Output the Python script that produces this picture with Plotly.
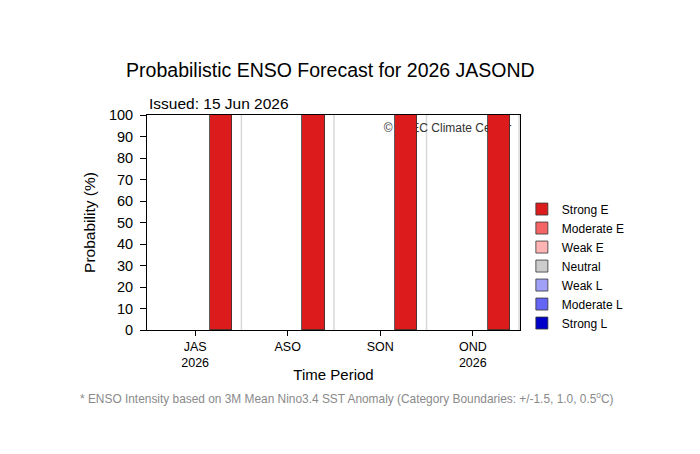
import plotly.graph_objects as go

periods = ["JAS<br>2026", "ASO", "SON", "OND<br>2026"]
categories = ["Strong L", "Moderate L", "Weak L", "Neutral", "Weak E", "Moderate E", "Strong E"]
colors = ["#0000C8", "#6464F5", "#A0A0F8", "#CCCCCC", "#FFB4B4", "#F46464", "#DC1C1C"]
probs = {
    "Strong L": [0, 0, 0, 0],
    "Moderate L": [0, 0, 0, 0],
    "Weak L": [0, 0, 0, 0],
    "Neutral": [0, 0, 0, 0],
    "Weak E": [0, 0, 0, 0],
    "Moderate E": [0, 0, 0, 0],
    "Strong E": [100, 100, 100, 100],
}
yticks = list(range(0, 101, 10))

FONT = "Liberation Sans, Arial, Helvetica, sans-serif"
xs = list(range(len(periods)))

fig = go.Figure()
for cat, col in zip(categories, colors):
    fig.add_trace(go.Bar(
        x=xs, y=probs[cat], name=cat,
        marker=dict(color=col, line=dict(color="#333333", width=0.8)),
        offset=0.16, width=0.24,
    ))

shapes = []
for i in range(len(periods)):
    shapes.append(dict(type="line", xref="x", yref="paper", x0=i + 0.5, x1=i + 0.5,
                       y0=0, y1=1, line=dict(color="#D8D8D8", width=1.5), layer="below"))
shapes.append(dict(type="rect", xref="paper", yref="paper", x0=0.5, x1=0.993, y0=0.895, y1=0.995,
                   line=dict(width=0), fillcolor="rgba(0,0,0,0)", layer="below",
                   label=dict(text="© APEC Climate Center", textposition="middle right",
                              font=dict(family=FONT, size=12, color="#333333"))))

fig.update_layout(
    width=700, height=454,
    margin=dict(l=147, r=180, t=115, b=124),
    paper_bgcolor="white", plot_bgcolor="white",
    barmode="stack", bargap=0,
    font=dict(family=FONT, color="black"),
    title=dict(text="Probabilistic ENSO Forecast for 2026 JASOND", x=0.472, xanchor="center",
               y=0.846, yanchor="middle", font=dict(size=19.5, color="black", family=FONT)),
    xaxis=dict(tickmode="array", tickvals=xs, ticktext=periods, range=[-0.52, 3.51],
               showline=True, linecolor="black", linewidth=1, mirror=True,
               ticks="outside", ticklen=5, tickcolor="black", showgrid=False, zeroline=False,
               tickfont=dict(size=12.5), title=dict(text="Time Period", font=dict(size=15), standoff=0)),
    yaxis=dict(tickmode="array", tickvals=yticks, range=[0, 100],
               showline=True, linecolor="black", linewidth=1, mirror=True,
               ticks="outside", ticklen=6, tickcolor="black", showgrid=False, zeroline=False,
               ticklabelstandoff=4,
               tickfont=dict(size=14.5), title=dict(text="Probability (%)", font=dict(size=15.5), standoff=9)),
    legend=dict(x=1.005, xanchor="left", y=0.63, yanchor="top", traceorder="reversed",
                font=dict(size=12), itemwidth=30, bgcolor="rgba(0,0,0,0)", tracegroupgap=0),
    shapes=shapes,
    annotations=[
        dict(text="Issued: 15 Jun 2026", xref="paper", yref="paper", x=0.0, y=1.0,
             xanchor="left", yanchor="bottom", yshift=1, showarrow=False,
             font=dict(size=15.5, color="black", family=FONT)),
        dict(text="* ENSO Intensity based on 3M Mean Nino3.4 SST Anomaly (Category Boundaries: +/-1.5, 1.0, 0.5<sup>o</sup>C)",
             xref="paper", yref="paper", x=0.535, y=0, yshift=-68, xanchor="center", yanchor="middle",
             showarrow=False, font=dict(size=11.9, color="#8A8A8A", family=FONT)),
    ],
)

fig.write_html("out.html")
